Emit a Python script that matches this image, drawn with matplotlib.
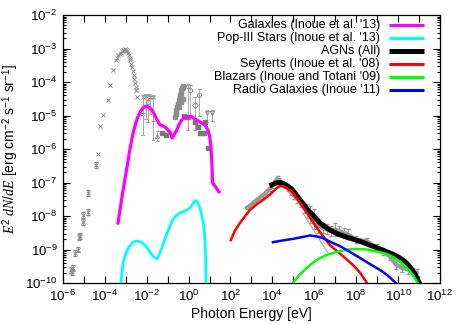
""" Extragalactic background spectrum: galaxies, Pop-III stars and AGNs """
import numpy as np
import matplotlib
matplotlib.use('Agg')
import matplotlib.pyplot as plt
from matplotlib.ticker import FixedLocator, NullFormatter

plt.rcParams['font.family'] = ['Liberation Sans', 'DejaVu Sans']
plt.rcParams['mathtext.fontset'] = 'custom'
plt.rcParams['mathtext.rm'] = 'Liberation Sans'
plt.rcParams['mathtext.it'] = 'Liberation Serif:italic'
plt.rcParams['mathtext.bf'] = 'Liberation Sans:bold'

# ---- model curves (log10 E [eV], log10 E^2 dN/dE) ----
gal_logE = [-3.37, -3.15, -2.94, -2.80, -2.65, -2.52, -2.42, -2.30, -2.18, -2.08, -1.99, -1.88,
            -1.75, -1.62, -1.51, -1.37, -1.25, -1.13, -0.99, -0.88, -0.79, -0.70, -0.56, -0.44,
            -0.32, -0.20, -0.08, 0.04, 0.16, 0.30, 0.45, 0.62, 0.78, 0.92, 1.00, 1.07, 1.12, 1.14, 1.45]
gal_logF = [-8.21, -7.30, -6.54, -6.00, -5.52, -5.22, -5.04, -4.88, -4.78, -4.73, -4.72, -4.76,
            -4.84, -4.98, -5.13, -5.28, -5.30, -5.34, -5.43, -5.50, -5.67, -5.58, -5.43, -5.25,
            -5.13, -5.07, -5.04, -5.03, -5.04, -5.10, -5.16, -5.22, -5.28, -5.43, -5.60, -5.94, -6.54, -7.00, -7.28]

pop3_logE = [-3.23, -3.18, -3.13, -3.00, -2.89, -2.75, -2.65, -2.52, -2.42, -2.30, -2.18, -2.00,
             -1.85, -1.70, -1.61, -1.51, -1.40, -1.27, -1.15, -1.03, -0.88, -0.74, -0.58, -0.41,
             -0.25, -0.08, 0.11, 0.22, 0.30, 0.40, 0.49, 0.60, 0.69, 0.75, 0.78, 0.81, 0.83]
pop3_logF = [-10.0, -9.65, -9.40, -9.12, -8.96, -8.85, -8.78, -8.75, -8.75, -8.77, -8.81, -8.93,
             -9.07, -9.20, -9.25, -9.28, -9.15, -8.93, -8.72, -8.51, -8.28, -8.09, -7.98, -7.91,
             -7.87, -7.82, -7.73, -7.62, -7.55, -7.56, -7.67, -7.90, -8.18, -8.45, -8.72, -9.20, -10.0]

agn_logE = [3.98, 4.15, 4.36, 4.60, 4.94, 5.30, 5.65, 6.00, 6.30, 6.70, 7.10, 7.50, 7.85, 8.30,
            8.66, 9.10, 9.47, 9.80, 10.09, 10.35, 10.57, 10.80, 11.00]
agn_logF = [-7.07, -7.02, -7.00, -7.05, -7.20, -7.50, -7.78, -8.02, -8.22, -8.40, -8.53, -8.62,
            -8.69, -8.78, -8.87, -8.97, -9.07, -9.15, -9.25, -9.37, -9.52, -9.72, -9.97]

sey_logE = [2.02, 2.20, 2.45, 2.70, 2.93, 3.25, 3.55, 3.90, 4.15, 4.36, 4.60, 4.94, 5.20, 5.46,
            5.75, 6.03, 6.40, 6.75, 7.30, 7.85, 8.20, 8.52]
sey_logF = [-8.72, -8.45, -8.21, -8.00, -7.82, -7.65, -7.52, -7.35, -7.20, -7.10, -7.13, -7.28,
            -7.48, -7.73, -8.00, -8.27, -8.58, -8.87, -9.16, -9.46, -9.70, -10.0]

blz_logE = [4.98, 5.30, 5.80, 6.20, 6.61, 7.20, 7.60, 8.04, 8.50, 9.00, 9.40, 9.76, 10.10, 10.43,
            10.70, 10.95]
blz_logF = [-10.0, -9.75, -9.46, -9.28, -9.16, -9.05, -9.00, -8.98, -9.00, -9.06, -9.12, -9.22,
            -9.36, -9.55, -9.75, -10.0]

rg_logE = [4.03, 4.50, 5.00, 5.50, 5.80, 6.20, 6.42, 6.80, 7.23, 7.70, 8.18, 8.65, 9.14, 9.50, 9.90]
rg_logF = [-8.78, -8.73, -8.68, -8.62, -8.58, -8.62, -8.66, -8.78, -8.90, -9.07, -9.25, -9.43,
           -9.61, -9.77, -10.0]

# ---- observational data (gray) ----
cmb_logE = [-5.62, -5.58, -5.50, -5.43, -5.30, -5.24, -5.20, -5.04, -5.04, -4.81, -4.81, -4.42,
            -4.35, -4.23, -4.09, -3.85, -3.76, -3.61, -3.47, -3.40, -3.35, -3.28, -3.23, -3.18,
            -3.13, -3.08, -3.04, -3.00, -2.95, -2.90, -2.85, -2.80, -2.78, -2.74, -2.70, -2.66,
            -2.63, -2.60, -2.56, -2.53, -2.50, -2.47]
cmb_logF = [-9.61, -9.68, -9.55, -9.10, -9.00, -8.63, -8.60, -7.97, -8.18, -7.88, -7.31, -6.48,
            -6.16, -5.31, -4.99, -4.54, -4.09, -3.64, -3.34, -3.28, -3.20, -3.15, -3.13, -3.08,
            -3.05, -3.03, -3.01, -3.04, -3.08, -3.13, -3.19, -3.27, -3.35, -3.45, -3.55, -3.66,
            -3.78, -3.90, -4.03, -4.14, -4.25, -4.45]

# open points with error bars (CIB / optical / UV)
ebl_logE = [-2.18, -2.04, -1.95, -1.85, -1.70, -2.18, -1.70, -0.03, 0.08, 0.30, 0.50, 0.88, 1.12, -1.50]
ebl_logF = [-4.45, -4.42, -4.60, -4.45, -4.45, -4.93, -5.16, -4.12, -4.25, -4.69, -4.40, -4.93, -4.93, -5.60]
ebl_lo = [-4.99, -5.10, -5.20, -4.95, -5.73, -5.58, -5.73, -5.43, -5.10, -5.43, -5.00, -5.20, -5.15, -5.75]
ebl_hi = [-4.39, -4.35, -4.40, -4.35, -4.39, -4.39, -4.90, -4.09, -4.10, -4.45, -4.20, -4.85, -4.85, -5.45]
ebl_mk = ['x', 'x', 'o', 'x', 'x', '_', '_', 'o', 'o', 'D', 'o', 'v', 'v', '^']

# UV column and filled points
uv_logE = [-0.65, -0.62, -0.60, -0.58, -0.55, -0.52, -0.50, -0.46, -0.42, -0.40, -0.38, -0.34, -0.30,
           -0.28, -0.26, -0.45, -0.35, -0.25]
uv_logF = [-5.05, -4.95, -4.90, -4.85, -4.75, -4.70, -4.65, -4.55, -4.45, -4.40, -4.35, -4.25, -4.17,
           -4.14, -4.12, -4.75, -4.60, -4.50]
fill_logE = [-1.27, -1.08, 0.30, 0.45, 0.54, 0.73, 0.78, 0.92, -0.20, -0.10]
fill_logF = [-5.52, -5.58, -5.19, -5.34, -5.52, -5.52, -5.19, -5.97, -5.00, -5.05]

# X-ray / gamma-ray background
xg_logE = [2.80, 2.95, 3.10, 3.25, 3.40, 3.55, 3.70, 3.85, 4.00, 4.15, 4.25, 4.30, 4.45, 4.60,
           4.75, 4.90, 5.05, 5.20, 5.35, 5.50, 5.65, 5.80, 6.00, 6.20, 6.40, 6.60, 6.80, 7.00,
           7.20, 7.40, 7.60, 8.00, 8.50, 9.00, 9.30, 9.60, 9.90, 10.20, 10.50, 10.70, 10.90]
xg_logF = [-7.75, -7.68, -7.60, -7.52, -7.45, -7.38, -7.30, -7.20, -7.10, -6.98, -6.88, -6.93,
           -7.00, -7.10, -7.18, -7.30, -7.40, -7.50, -7.62, -7.75, -7.85, -7.95, -8.10, -8.30,
           -8.35, -8.40, -8.45, -8.40, -8.45, -8.50, -8.55, -8.70, -8.75, -8.95, -9.05, -9.20,
           -9.45, -9.55, -9.60, -9.67, -9.70]
xg_err = [0.05, 0.05, 0.05, 0.05, 0.05, 0.05, 0.05, 0.05, 0.05, 0.06, 0.06, 0.05, 0.05, 0.06,
          0.06, 0.08, 0.10, 0.12, 0.12, 0.15, 0.20, 0.25, 0.30, 0.20, 0.15, 0.15, 0.15, 0.20,
          0.15, 0.15, 0.15, 0.10, 0.10, 0.10, 0.10, 0.10, 0.12, 0.12, 0.12, 0.12, 0.12]
# COMPTEL-like thin line
cmp_logE = [5.46, 5.80, 6.10, 6.40, 6.66]
cmp_logF = [-7.91, -8.25, -8.55, -8.85, -9.10]

legend_labels = ["Galaxies (Inoue et al. '13)", "Pop-III Stars (Inoue et al. '13)", "AGNs (All)",
                 "Seyferts (Inoue et al. '08)", "Blazars (Inoue and Totani '09)",
                 "Radio Galaxies (Inoue '11)"]

def p10(a):
  return 10.0**np.asarray(a)

gray = '#8c8c8c'
fig = plt.figure(figsize=(4.63, 3.24), dpi=100)
ax = fig.add_axes([0.136, 0.1265, 0.814, 0.8272])
ax.set_xscale('log')
ax.set_yscale('log')

# data
ax.plot(p10(cmb_logE), p10(cmb_logF), ls='none', marker='x', ms=3, mew=0.7, color=gray, zorder=2)
ax.errorbar(p10(cmb_logE[:12]), p10(cmb_logF[:12]), yerr=[p10(cmb_logF[:12])*(1-10**-0.08), p10(cmb_logF[:12])*(10**0.08-1)],
            ls='none', color=gray, elinewidth=0.6, capsize=1.5, zorder=2)
for e, f, lo, hi, m in zip(ebl_logE, ebl_logF, ebl_lo, ebl_hi, ebl_mk):
  ax.plot([10**e, 10**e], [10**lo, 10**hi], color='#aaaaaa', lw=0.7, zorder=2)
  ax.plot([10**e*0.85, 10**e/0.85], [10**lo, 10**lo], color='#aaaaaa', lw=0.7, zorder=2)
  ax.plot([10**e*0.85, 10**e/0.85], [10**hi, 10**hi], color='#aaaaaa', lw=0.7, zorder=2)
  ax.plot(10**e, 10**f, marker=m, ms=3, mfc='none', mec=gray, mew=0.7, zorder=2)
ax.plot(p10(uv_logE), p10(uv_logF), ls='none', marker='s', ms=3, color=gray, alpha=0.9, zorder=2)
ax.plot(p10(fill_logE), p10(fill_logF), ls='none', marker='s', ms=3, color='#777777', zorder=2)
ax.errorbar(p10(xg_logE), p10(xg_logF),
            yerr=[p10(xg_logF)*(1-10**-np.asarray(xg_err)), p10(xg_logF)*(10**np.asarray(xg_err)-1)],
            color='#999999', lw=3.0, elinewidth=0.6, capsize=1.2, zorder=2)
ax.plot(p10(cmp_logE), p10(cmp_logF), color='#aaaaaa', lw=0.8, zorder=2)

# models
ax.plot(p10(gal_logE), p10(gal_logF), color='#ff00ff', lw=2.3, zorder=3)
ax.plot(p10(pop3_logE), p10(pop3_logF), color='#00ffff', lw=2.0, zorder=3)
ax.plot(p10(sey_logE), p10(sey_logF), color='#ff0000', lw=1.8, zorder=4)
ax.plot(p10(blz_logE), p10(blz_logF), color='#00ff00', lw=1.8, zorder=4)
ax.plot(p10(rg_logE), p10(rg_logF), color='#0000ff', lw=1.8, zorder=4)
ax.plot(p10(agn_logE), p10(agn_logF), color='black', lw=3.6, zorder=3)

# manual gnuplot-like key
key_colors = ['#ff00ff', '#00ffff', 'black', '#ff0000', '#00ff00', '#0000ff']
key_lw = [2.2, 2.2, 3.6, 2.2, 2.2, 2.2]
for i, (lab, c, lw) in enumerate(zip(legend_labels, key_colors, key_lw)):
  yk = 0.963 - i*0.0486
  ax.text(0.841, yk, lab, transform=ax.transAxes, ha='right', va='center', fontsize=9.0)
  ax.plot([0.865, 0.958], [yk, yk], transform=ax.transAxes, color=c, lw=lw, solid_capstyle='butt')

ax.set_xlim(1e-6, 1e12)
ax.set_ylim(1e-10, 1e-2)
ax.xaxis.set_major_locator(FixedLocator([10.0**k for k in range(-6, 13)]))
ax.xaxis.set_minor_locator(FixedLocator([]))
ax.set_xticklabels([r'$\mathregular{10^{%d}}$' % k if k % 2 == 0 else '' for k in range(-6, 13)])
ax.yaxis.set_major_locator(FixedLocator([10.0**k for k in range(-10, -1)]))
ax.set_yticklabels([r'$\mathregular{10^{%d}}$' % k for k in range(-10, -1)])
ax.yaxis.set_minor_locator(FixedLocator([m*10.0**k for k in range(-10, -2) for m in range(2, 10)]))
ax.yaxis.set_minor_formatter(NullFormatter())
ax.tick_params(which='both', direction='in', top=True, right=True, labelsize=9.5, width=0.8)
ax.tick_params(which='major', length=5, pad=4)
ax.tick_params(which='minor', length=2.5)
for s in ax.spines.values():
  s.set_linewidth(0.9)

ax.set_xlabel('Photon Energy [eV]', fontsize=10, labelpad=2)
ax.set_ylabel(r'$E^2\ dN/dE$ [erg cm$^{\mathregular{-2}}$ s$^{\mathregular{-1}}$ sr$^{\mathregular{-1}}$]', fontsize=10, labelpad=3)

fig.savefig('out.png', dpi=100)
